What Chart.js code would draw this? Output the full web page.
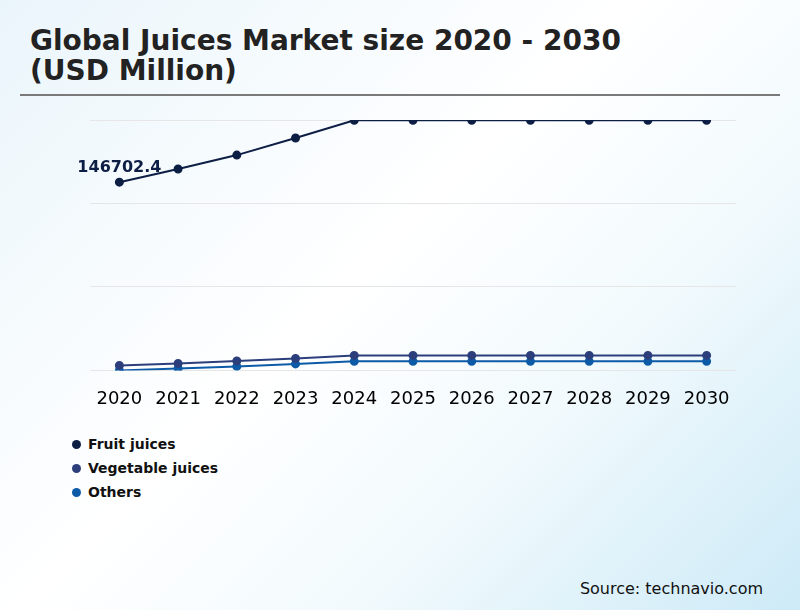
<!DOCTYPE html>
<html>
<head>
<meta charset="utf-8">
<script src="https://cdn.jsdelivr.net/npm/chart.js@4"></script>
<style>
  html, body { margin: 0; padding: 0; }
  body {
    width: 800px; height: 610px; position: relative; overflow: hidden;
    font-family: "DejaVu Sans", sans-serif;
    background: linear-gradient(135deg, #eaf5fb 0%, #ffffff 45%, #f2fafd 68%, #cdeaf7 100%);
  }
  #titulo {
    position: absolute; left: 30px; top: 26px;
    font-size: 28px; font-weight: bold; line-height: 30px; color: #222;
  }
  #regla {
    position: absolute; left: 20px; top: 94px; width: 760px; height: 2px; background: #7a7a7a;
  }
  #grafico { position: absolute; left: 0; top: 0; width: 800px; height: 420px; }
  #leyenda { position: absolute; left: 72px; top: 432px; }
  .item { display: flex; align-items: center; height: 24px; font-size: 14px; font-weight: bold; color: #111; }
  .punto { width: 9px; height: 9px; border-radius: 50%; margin-right: 7px; }
  #fuente { position: absolute; right: 37px; top: 579px; font-size: 16px; color: #111; }
</style>
</head>
<body>
<div id="titulo">Global Juices Market size 2020 - 2030<br>(USD Million)</div>
<div id="regla"></div>
<div id="grafico"><canvas id="chart"></canvas></div>
<div id="leyenda"></div>
<div id="fuente">Source: technavio.com</div>

<script>
// Datos del gráfico
const anios = ['2020', '2021', '2022', '2023', '2024', '2025', '2026', '2027', '2028', '2029', '2030'];
const fruitJuices = [146702.4, 156700, 167300, 180300, 193800, 193800, 193800, 193800, 193800, 193800, 193800];
const vegetableJuices = [7300, 8800, 10700, 12600, 14900, 14900, 14900, 14900, 14900, 14900, 14900];
const others = [3500, 5000, 6550, 8450, 10400, 10400, 10400, 10400, 10400, 10400, 10400];
const nombres = ['Fruit juices', 'Vegetable juices', 'Others'];
const colores = ['#0d1e45', '#2c3f7c', '#0d5aa7'];
const ejeMin = 3500;
const ejeMax = 194000;

// Etiqueta del primer valor de Fruit juices
const etiquetaPrimerValor = {
    id: 'etiquetaPrimerValor',
    afterDatasetsDraw(chart) {
        const punto = chart.getDatasetMeta(0).data[0];
        const ctx = chart.ctx;
        ctx.save();
        ctx.font = 'bold 16px "DejaVu Sans"';
        ctx.fillStyle = colores[0];
        ctx.textAlign = 'center';
        ctx.textBaseline = 'bottom';
        ctx.fillText(fruitJuices[0], punto.x, punto.y - 6);
        ctx.restore();
    }
};

const series = [fruitJuices, vegetableJuices, others];
const ctx = document.getElementById('chart').getContext('2d');
const chart = new Chart(ctx, {
    type: 'line',
    data: {
        labels: anios,
        datasets: series.map((valores, i) => ({
            label: nombres[i],
            data: valores,
            borderColor: colores[i],
            backgroundColor: colores[i],
            borderWidth: 2,
            pointRadius: 3.5,
            pointHoverRadius: 3.5,
            tension: 0
        }))
    },
    options: {
        responsive: true,
        maintainAspectRatio: false,
        animation: false,
        layout: { padding: { left: 90, right: 64, top: 120, bottom: 0 } },
        plugins: {
            legend: { display: false },
            tooltip: { enabled: false }
        },
        scales: {
            x: {
                offset: true,
                grid: { display: false },
                border: { display: false },
                ticks: { color: '#000', font: { family: 'DejaVu Sans', size: 18 }, padding: 10 }
            },
            y: {
                min: ejeMin,
                max: ejeMax,
                afterBuildTicks(scale) {
                    // Cuatro líneas de cuadrícula igualmente espaciadas
                    const paso = (ejeMax - ejeMin) / 3;
                    scale.ticks = [0, 1, 2, 3].map(i => ({ value: ejeMin + i * paso }));
                },
                grid: { color: '#e6e6e6', lineWidth: 1, drawTicks: false },
                border: { display: false },
                ticks: { display: false }
            }
        }
    },
    plugins: [etiquetaPrimerValor]
});

// Leyenda vertical
const leyenda = document.getElementById('leyenda');
chart.data.datasets.forEach(ds => {
    const fila = document.createElement('div');
    fila.className = 'item';
    fila.innerHTML = '<span class="punto" style="background:' + ds.backgroundColor + '"></span>' + ds.label;
    leyenda.appendChild(fila);
});
</script>
</body>
</html>
